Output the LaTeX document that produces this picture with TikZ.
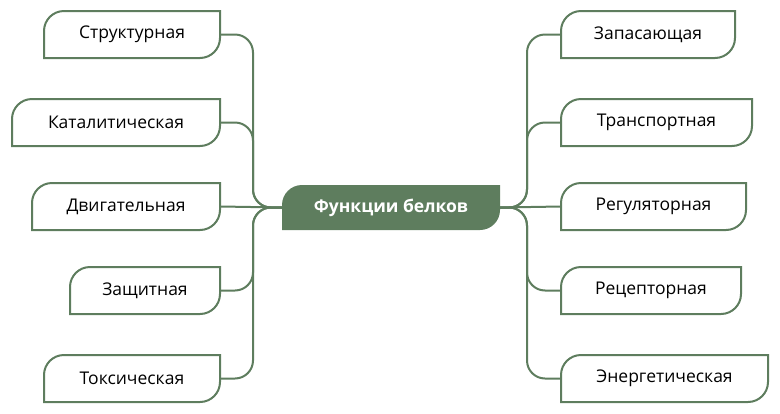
\documentclass[tikz,border=0pt]{standalone}
\usepackage{fontspec}
\setmainfont{Open Sans}
\definecolor{gr}{HTML}{5E7D5E}
\begin{document}
\begin{tikzpicture}[x=1pt,y=-1pt,
  lbl/.style={font=\fontsize{17.5}{20}\selectfont, text=black},
  link/.style={draw=gr, line width=2pt, rounded corners=18pt}]
\useasboundingbox (0,0) rectangle (780,413);
\newcommand{\leaf}[6]{%
  \draw[gr, line width=2pt, fill=white] (#2,#5) [rounded corners=20pt]-- (#2,#3) [sharp corners]-- (#4,#3) [rounded corners=20pt]-- (#4,#5) [sharp corners]-- cycle;
  \node[lbl, minimum width={(#4-#2)*1pt}, minimum height={(#5-#3)*1pt}, inner sep=0pt] (#1) at ({(#2+#4)/2},{(#3+#5)/2}) {#6};}
% center
\fill[gr] (282,230) [rounded corners=20pt]-- (282,185) [sharp corners]-- (500,185) [rounded corners=20pt]-- (500,230) [sharp corners]-- cycle;
\node[font=\fontsize{17.5}{20}\selectfont\bfseries, text=white, minimum width=218pt, minimum height=45pt, inner sep=0pt] (c) at (391,207.5) {Функции белков};
\leaf{l1}{44}{11}{220}{58}{Структурная}
\leaf{l2}{12}{99}{220}{146}{Каталитическая}
\leaf{l3}{32}{183}{220}{230}{Двигательная}
\leaf{l4}{70}{267}{220}{314}{Защитная}
\leaf{l5}{44}{355}{220}{402}{Токсическая}
\leaf{r1}{561}{11}{735}{58}{Запасающая}
\leaf{r2}{561}{99}{752}{146}{Транспортная}
\leaf{r3}{561}{183}{746}{230}{Регуляторная}
\leaf{r4}{561}{267}{741}{314}{Рецепторная}
\leaf{r5}{561}{355}{768}{402}{Энергетическая}
\foreach \n in {l1,l2,l4,l5}
  \draw[link] (\n.east) -| (253,207.5) -- (c.west);
\draw[link] (l3.east) -- (c.west);
\foreach \n in {r1,r2,r4,r5}
  \draw[link] (\n.west) -| (527,207.5) -- (c.east);
\draw[link] (r3.west) -- (c.east);
\end{tikzpicture}
\end{document}
